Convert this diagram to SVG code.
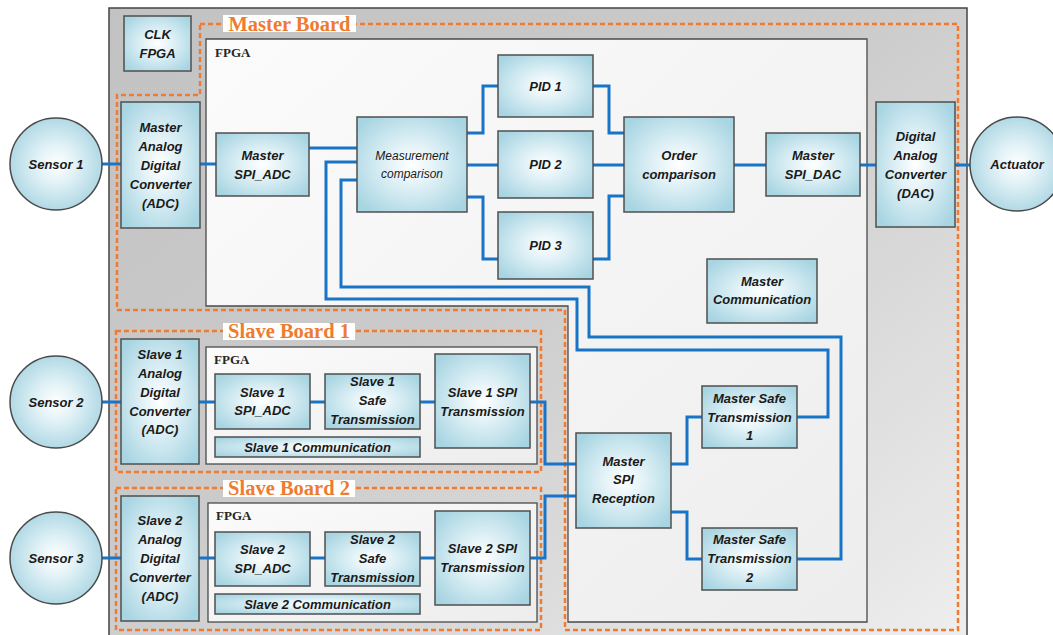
<svg xmlns="http://www.w3.org/2000/svg" width="1053" height="635" viewBox="0 0 1053 635">
<defs>
<radialGradient id="boxg" cx="50%" cy="50%" r="62%">
<stop offset="0" stop-color="#ffffff"/>
<stop offset="0.35" stop-color="#e2f2f7"/>
<stop offset="1" stop-color="#a8d5e2"/>
</radialGradient>
<radialGradient id="circg" cx="50%" cy="50%" r="55%">
<stop offset="0" stop-color="#ffffff"/>
<stop offset="0.4" stop-color="#e0f1f6"/>
<stop offset="1" stop-color="#a9d5e2"/>
</radialGradient>
<linearGradient id="frameg" x1="0" y1="0" x2="1" y2="1">
<stop offset="0" stop-color="#c2c2c2"/>
<stop offset="0.45" stop-color="#cbcbcb"/>
<stop offset="1" stop-color="#eeeeee"/>
</linearGradient>
<linearGradient id="fpgag" x1="0" y1="0" x2="1" y2="1">
<stop offset="0" stop-color="#fbfbfb"/>
<stop offset="1" stop-color="#ededed"/>
</linearGradient>
</defs>
<style>
.box{fill:url(#boxg);stroke:#4f4f4f;stroke-width:1.5}
.circ{fill:url(#circg);stroke:#4a4a4a;stroke-width:1.5}
.fpga{fill:url(#fpgag);stroke:#4a4a4a;stroke-width:1.3}
.t{font-family:"Liberation Sans",Arial,sans-serif;font-weight:bold;font-style:italic;font-size:13px;fill:#1a1a1a;text-anchor:middle}
.ts{font-family:"Liberation Sans",Arial,sans-serif;font-style:italic;font-size:12px;fill:#1a1a1a;text-anchor:middle}
.fl{font-family:"Liberation Serif","Times New Roman",serif;font-weight:bold;font-size:13px;fill:#262626}
.bl{font-family:"Liberation Serif","Times New Roman",serif;font-weight:bold;font-size:20.5px;fill:#ee7b30;text-anchor:middle}
.dash{fill:none;stroke:#ee7b30;stroke-width:2.5;stroke-dasharray:5 3}
.lbg{fill:#ffffff}
.c{fill:none;stroke:#1874c6;stroke-width:3}
</style>

<!-- background frame -->
<rect x="109" y="8" width="858" height="632" fill="url(#frameg)" stroke="#444" stroke-width="1.5"/>

<!-- master FPGA -->
<g id="master-fpga">
<polygon class="fpga" points="206,39 867,39 867,622 568,622 568,306 206,306"/>
<text class="fl" x="215" y="57">FPGA</text>
</g>

<!-- board outlines -->
<g id="master-board">
<path class="dash" d="M200 24 H958 V630 H565 V310 H117 V95 H200 Z"/>
<rect class="lbg" x="223" y="15" width="133" height="17"/>
<text class="bl" x="289.5" y="31">Master Board</text>
</g>
<g id="slave-board-1">
<rect class="dash" x="116" y="331" width="425" height="141"/>
<rect class="lbg" x="223" y="323" width="132" height="17"/>
<text class="bl" x="289" y="338">Slave Board 1</text>
</g>
<g id="slave-board-2">
<rect class="dash" x="116" y="488" width="425" height="142"/>
<rect class="lbg" x="223" y="480" width="132" height="17"/>
<text class="bl" x="289" y="495">Slave Board 2</text>
</g>

<g id="slave1-fpga">
<rect class="fpga" x="206" y="347" width="331" height="117"/>
<text class="fl" x="214" y="364">FPGA</text>
</g>
<g id="slave2-fpga">
<rect class="fpga" x="208" y="503" width="329" height="119"/>
<text class="fl" x="216" y="520">FPGA</text>
</g>

<!-- connectors -->
<g id="connectors">
<path class="c" d="M102 164 H121"/>
<path class="c" d="M200 164 H216"/>
<path class="c" d="M309 148 H357"/>
<path class="c" d="M467 133 H483 V86 H498"/>
<path class="c" d="M467 165 H498"/>
<path class="c" d="M467 197 H483 V259 H498"/>
<path class="c" d="M593 86 H609 V133 H624"/>
<path class="c" d="M593 165 H624"/>
<path class="c" d="M593 259 H609 V196 H624"/>
<path class="c" d="M734 165 H766"/>
<path class="c" d="M860 165 H876"/>
<path class="c" d="M955 165 H970"/>
<path class="c" d="M357 162 H326 V299 H577 V350 H828 V417 H797"/>
<path class="c" d="M357 180 H341 V287 H589 V337 H841 V559 H797"/>
<path class="c" d="M671 464 H687 V417 H702"/>
<path class="c" d="M671 512 H687 V559 H702"/>
<path class="c" d="M530 402 H545 V464 H576"/>
<path class="c" d="M530 558 H545 V496 H576"/>
<path class="c" d="M102 402 H121"/>
<path class="c" d="M199 402 H215"/>
<path class="c" d="M310 402 H325"/>
<path class="c" d="M420 402 H435"/>
<path class="c" d="M102 558 H121"/>
<path class="c" d="M199 558 H215"/>
<path class="c" d="M310 558 H325"/>
<path class="c" d="M420 558 H435"/>
</g>

<!-- nodes -->
<g id="clk-fpga">
<rect class="box" x="124" y="16" width="67" height="55"/>
<text class="t" x="157.5" y="38.5">CLK</text>
<text class="t" x="157.5" y="57.5">FPGA</text>
</g>
<g id="sensor1">
<circle class="circ" cx="56" cy="164" r="46"/>
<text class="t" x="56" y="168.5">Sensor 1</text>
</g>
<g id="master-adc">
<rect class="box" x="121" y="102" width="79" height="126"/>
<text class="t" x="160.5" y="131.5">Master</text>
<text class="t" x="160.5" y="150.5">Analog</text>
<text class="t" x="160.5" y="169.5">Digital</text>
<text class="t" x="160.5" y="188.5">Converter</text>
<text class="t" x="160.5" y="207.5">(ADC)</text>
</g>
<g id="master-spi-adc">
<rect class="box" x="216" y="133" width="93" height="63"/>
<text class="t" x="262.5" y="159.5">Master</text>
<text class="t" x="262.5" y="178.5">SPI_ADC</text>
</g>
<g id="measurement">
<rect class="box" x="357" y="117" width="110" height="95"/>
<text class="ts" x="412" y="160">Measurement</text>
<text class="ts" x="412" y="178">comparison</text>
</g>
<g id="pid1">
<rect class="box" x="498" y="55" width="95" height="62"/>
<text class="t" x="545.5" y="90.5">PID 1</text>
</g>
<g id="pid2">
<rect class="box" x="498" y="131" width="95" height="67"/>
<text class="t" x="545.5" y="169">PID 2</text>
</g>
<g id="pid3">
<rect class="box" x="498" y="212" width="95" height="67"/>
<text class="t" x="545.5" y="250">PID 3</text>
</g>
<g id="order">
<rect class="box" x="624" y="117" width="110" height="95"/>
<text class="t" x="679" y="159.5">Order</text>
<text class="t" x="679" y="178.5">comparison</text>
</g>
<g id="master-spi-dac">
<rect class="box" x="766" y="133" width="94" height="63"/>
<text class="t" x="813" y="159.5">Master</text>
<text class="t" x="813" y="178.5">SPI_DAC</text>
</g>
<g id="dac">
<rect class="box" x="876" y="102" width="79" height="125"/>
<text class="t" x="915.5" y="140.5">Digital</text>
<text class="t" x="915.5" y="159.5">Analog</text>
<text class="t" x="915.5" y="178.5">Converter</text>
<text class="t" x="915.5" y="197.5">(DAC)</text>
</g>
<g id="actuator">
<circle class="circ" cx="1017" cy="164" r="47"/>
<text class="t" x="1017" y="168.5">Actuator</text>
</g>
<g id="master-communication">
<rect class="box" x="707" y="259" width="110" height="64"/>
<text class="t" x="762" y="285.5">Master</text>
<text class="t" x="762" y="303.5">Communication</text>
</g>
<g id="master-spi-reception">
<rect class="box" x="576" y="433" width="95" height="95"/>
<text class="t" x="623.5" y="465.5">Master</text>
<text class="t" x="623.5" y="484">SPI</text>
<text class="t" x="623.5" y="502.5">Reception</text>
</g>
<g id="master-safe-1">
<rect class="box" x="702" y="386" width="95" height="62"/>
<text class="t" x="749.5" y="402.5">Master Safe</text>
<text class="t" x="749.5" y="421.5">Transmission</text>
<text class="t" x="749.5" y="440">1</text>
</g>
<g id="master-safe-2">
<rect class="box" x="702" y="528" width="95" height="62"/>
<text class="t" x="749.5" y="543.5">Master Safe</text>
<text class="t" x="749.5" y="562.5">Transmission</text>
<text class="t" x="749.5" y="581.5">2</text>
</g>

<g id="sensor2">
<circle class="circ" cx="56" cy="402" r="46"/>
<text class="t" x="56" y="406.5">Sensor 2</text>
</g>
<g id="slave1-adc">
<rect class="box" x="121" y="339" width="78" height="125"/>
<text class="t" x="160" y="358.5">Slave 1</text>
<text class="t" x="160" y="377.5">Analog</text>
<text class="t" x="160" y="396.5">Digital</text>
<text class="t" x="160" y="415.5">Converter</text>
<text class="t" x="160" y="433.5">(ADC)</text>
</g>
<g id="slave1-spi-adc">
<rect class="box" x="215" y="374" width="95" height="55"/>
<text class="t" x="262.5" y="396.5">Slave 1</text>
<text class="t" x="262.5" y="414.5">SPI_ADC</text>
</g>
<g id="slave1-safe">
<rect class="box" x="325" y="374" width="95" height="55"/>
<text class="t" x="372.5" y="386">Slave 1</text>
<text class="t" x="372.5" y="405">Safe</text>
<text class="t" x="372.5" y="423.5">Transmission</text>
</g>
<g id="slave1-comm">
<rect class="box" x="215" y="437" width="205" height="20"/>
<text class="t" x="317.5" y="451.5">Slave 1 Communication</text>
</g>
<g id="slave1-spi-trans">
<rect class="box" x="435" y="354" width="95" height="94"/>
<text class="t" x="482.5" y="396.5">Slave 1 SPI</text>
<text class="t" x="482.5" y="415.5">Transmission</text>
</g>

<g id="sensor3">
<circle class="circ" cx="56" cy="558" r="46"/>
<text class="t" x="56" y="562.5">Sensor 3</text>
</g>
<g id="slave2-adc">
<rect class="box" x="121" y="496" width="78" height="125"/>
<text class="t" x="160" y="524.5">Slave 2</text>
<text class="t" x="160" y="543.5">Analog</text>
<text class="t" x="160" y="562.5">Digital</text>
<text class="t" x="160" y="581.5">Converter</text>
<text class="t" x="160" y="600.5">(ADC)</text>
</g>
<g id="slave2-spi-adc">
<rect class="box" x="215" y="532" width="95" height="54"/>
<text class="t" x="262.5" y="553.5">Slave 2</text>
<text class="t" x="262.5" y="572.5">SPI_ADC</text>
</g>
<g id="slave2-safe">
<rect class="box" x="325" y="532" width="95" height="54"/>
<text class="t" x="372.5" y="543.5">Slave 2</text>
<text class="t" x="372.5" y="562.5">Safe</text>
<text class="t" x="372.5" y="581.5">Transmission</text>
</g>
<g id="slave2-comm">
<rect class="box" x="215" y="594" width="205" height="20"/>
<text class="t" x="317.5" y="608.5">Slave 2 Communication</text>
</g>
<g id="slave2-spi-trans">
<rect class="box" x="435" y="511" width="95" height="94"/>
<text class="t" x="482.5" y="552.5">Slave 2 SPI</text>
<text class="t" x="482.5" y="572">Transmission</text>
</g>
</svg>
